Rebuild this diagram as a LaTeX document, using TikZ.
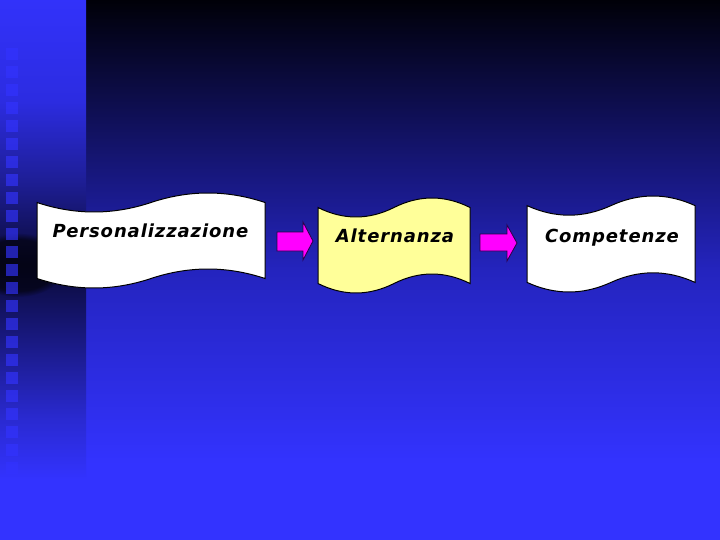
\documentclass[tikz,border=0pt]{standalone}
\usepackage{fontspec}
\newfontfamily\bannerfont{DejaVu Sans}[LetterSpace=5]
\usetikzlibrary{fadings}
\definecolor{bgblue}{RGB}{51,51,255}
\definecolor{bgmid}{RGB}{36,36,190}
\definecolor{bgtop}{RGB}{0,0,8}
\definecolor{lsA}{RGB}{50,50,250}
\definecolor{lsB}{RGB}{44,44,225}
\definecolor{lsC}{RGB}{30,30,150}
\definecolor{lsD}{RGB}{10,10,55}
\definecolor{lsE}{RGB}{27,27,140}
\definecolor{lsF}{RGB}{42,42,210}
\definecolor{tapeyellow}{RGB}{255,255,153}
\definecolor{arrowmag}{RGB}{255,0,255}
\definecolor{arrowline}{RGB}{40,0,70}
\pgfdeclareverticalshading{mainbg}{100bp}{color(0bp)=(bgblue); color(25bp)=(bgblue); color(32bp)=(bgblue); color(50bp)=(bgmid); color(75bp)=(bgtop); color(100bp)=(bgtop)}
\pgfdeclareverticalshading{stripbg}{100bp}{color(0bp)=(bgblue); color(30.6bp)=(bgblue); color(36.1bp)=(lsF); color(42.6bp)=(lsE); color(50.5bp)=(lsD); color(58.3bp)=(lsC); color(65.7bp)=(lsB); color(75bp)=(lsA); color(100bp)=(lsA)}
\newcommand\drawtape[5]{%
  \draw[tapeline, fill=#5] (#1,{#2+0.1*#4})
    .. controls ({#1+#3/6},{#2+0.2333*#4}) and ({#1+#3/3},{#2+0.2333*#4}) .. ({#1+#3/2},{#2+0.1*#4})
    .. controls ({#1+2*#3/3},{#2-0.0333*#4}) and ({#1+5*#3/6},{#2-0.0333*#4}) .. ({#1+#3},{#2+0.1*#4})
    -- ({#1+#3},{#2+0.9*#4})
    .. controls ({#1+5*#3/6},{#2+0.7667*#4}) and ({#1+2*#3/3},{#2+0.7667*#4}) .. ({#1+#3/2},{#2+0.9*#4})
    .. controls ({#1+#3/3},{#2+1.0333*#4}) and ({#1+#3/6},{#2+1.0333*#4}) .. (#1,{#2+0.9*#4})
    -- cycle;}
\tikzset{
  tapeline/.style={draw=black, line width=1pt},
  tapetext/.style={anchor=base, inner sep=0pt, font=\bannerfont\bfseries\itshape\fontsize{18}{20}\selectfont, text=black},
  blockarrow/.style={fill=arrowmag, draw=arrowline, line width=0.8pt, line join=miter},
  stripsquare/.style={fill=bgblue, opacity=0.65}
}
\begin{document}
\begin{tikzpicture}[x=1pt,y=-1pt]
\useasboundingbox (0,0) rectangle (720,540);
% backgrounds
\shade[shading=mainbg] (86,0) rectangle (720,540);
\shade[shading=stripbg] (0,0) rectangle (86,540);
\begin{scope}
  \clip (0,0) rectangle (86,540);
  \fill[black, opacity=0.6, path fading=circle with fuzzy edge 20 percent] (18,265) ellipse (48 and 32);
\end{scope}
\foreach \k in {0,...,24}
  \fill[stripsquare] (6,{48+18*\k}) rectangle ++(12,12);
% banners
\drawtape{37}{193}{228}{95}{white}
\drawtape{318}{198}{152}{95}{tapeyellow}
\drawtape{527}{196}{168}{96}{white}
\node[tapetext] (t1) at (150.5,237) {Personalizzazione};
\node[tapetext] (t2) at (395,243) {Alternanza};
\node[tapetext] (t3) at (612,243) {Competenze};
% arrows
\coordinate (a1) at (277,232);
\draw[blockarrow] (a1) -- (303,232) -- (303,222) -- (313,241) -- (303,260) -- (303,251) -- (277,251) -- cycle;
\coordinate (a2) at (480,234);
\draw[blockarrow] (a2) -- (507,234) -- (507,225) -- (517,243) -- (507,261) -- (507,251) -- (480,251) -- cycle;
\end{tikzpicture}
\end{document}
